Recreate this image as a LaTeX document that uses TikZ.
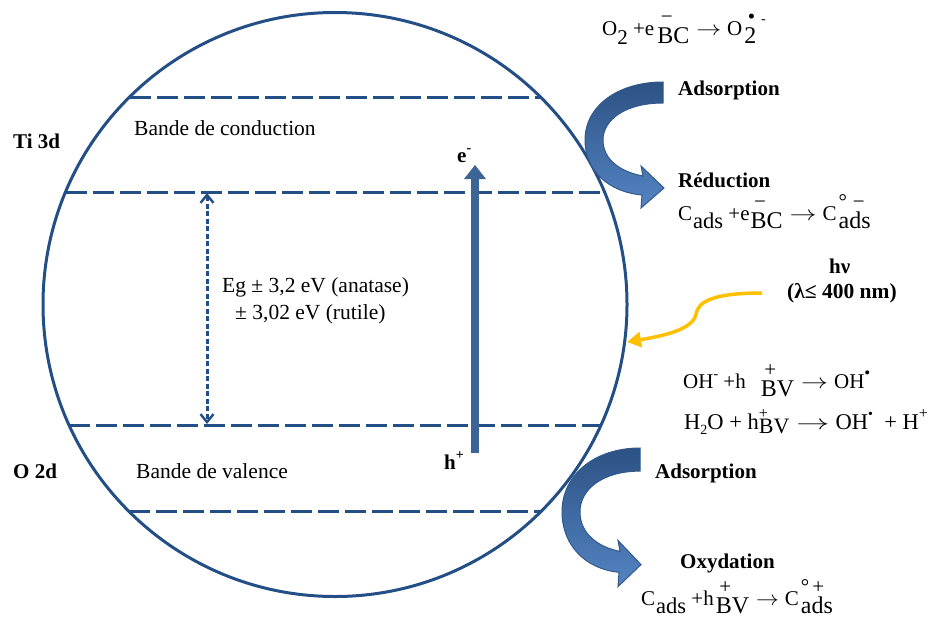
\documentclass[tikz,border=0pt]{standalone}
\usepackage{fontspec}
\setmainfont{Liberation Serif}
\usetikzlibrary{arrows.meta}
\definecolor{cblue}{RGB}{36,78,134}
\definecolor{abl}{RGB}{60,100,150}
\definecolor{abd}{RGB}{50,88,140}
\definecolor{atop}{RGB}{44,82,132}
\definecolor{abot}{RGB}{84,132,194}
\definecolor{ayel}{RGB}{255,192,0}
\newcommand\bigf{\fontsize{24}{25}\selectfont}
\newcommand\dn[1]{\raisebox{-0.45em}{#1}}
\newcommand\dnb[1]{\hspace{1pt}\raisebox{-0.42em}{\fontsize{22.5}{25}\selectfont #1}}
\newcommand\upx[1]{\raisebox{0.45em}{#1}}
\newcommand\SupSub[2]{\rlap{\raisebox{0.55em}{#1}}\raisebox{-0.42em}{\bigf #2}}
\newcommand\rarr[1]{\hspace{7pt}\scalebox{#1}[1]{$\rightarrow$}\hspace{6pt}}
\newcommand\smf{\fontsize{14}{14}\selectfont}
\tikzset{
  band/.style={cblue, line width=3pt, dash pattern=on 21pt off 6pt},
  lbl/.style={inner sep=0pt, anchor=base west, font=\fontsize{21.5}{25}\selectfont},
  flbl/.style={inner sep=0pt, anchor=base west, font=\fontsize{21}{25}\selectfont},
  blbl/.style={lbl, font=\fontsize{21}{25}\selectfont\bfseries},
  blockarrow/.style={draw=abd, line width=1pt, top color=atop, bottom color=abot},
}
\begin{document}
\begin{tikzpicture}[x=1pt, y=-1pt]
\useasboundingbox (0,0) rectangle (941,624);
% circle
\draw[cblue, line width=3pt] (335,304.5) circle[radius=292];
% bands
\draw[band] (130,97) -- (540,97);
\draw[band] (66,192) -- (604,192);
\draw[band] (69,425) -- (601,425);
\draw[band] (129,511) -- (541,511);
% gap arrow
\coordinate (gtop) at (207,193);
\coordinate (gbot) at (207,424);
\draw[cblue, line width=3pt, dash pattern=on 5pt off 2.5pt,
  {Straight Barb[length=8pt,width=13pt,line width=2.4pt]}-{Straight Barb[length=8pt,width=13pt,line width=2.4pt]}] (gtop) -- (gbot);
% excitation arrow
\coordinate (abase) at (475,453);
\coordinate (atip) at (475,165);
\draw[abl, line width=8.5pt] (abase) -- (475,177);
\fill[abl] (464,179) -- (486,179) -- (atip) -- cycle;
% labels left
\node[blbl] (ti) at (13,148) {Ti 3d};
\node[blbl] (o2d) at (13,478) {O 2d};
\node[lbl] (bc) at (134,135) {Bande de conduction};
\node[lbl] (bv) at (136,478) {Bande de valence};
\node[lbl] (eg1) at (222,292) {Eg ± 3,2 eV (anatase)};
\node[lbl] (eg2) at (235,319) {± 3,02 eV (rutile)};
\node[blbl] (el) at (457,162) {e\upx{\smf -}};
\node[blbl] (hl) at (444,469) {h\upx{\smf +}};
% block arrows
\begin{scope}[shift={(663,82)}]
\draw[blockarrow] (0,0) -- (0,21) .. controls (-38,21) and (-60,38) .. (-60,58)
  .. controls (-60,78) and (-42,90) .. (-20,94) -- (-22,84) -- (1,106) -- (-22,126)
  -- (-21,113) .. controls (-55,110) and (-78,88) .. (-78,58)
  .. controls (-78,24) and (-45,0) .. (0,0) -- cycle;
\end{scope}
\begin{scope}[shift={(640,448)}, yscale=1.1]
\draw[blockarrow] (0,0) -- (0,21) .. controls (-38,21) and (-60,38) .. (-60,58)
  .. controls (-60,78) and (-42,90) .. (-20,94) -- (-22,84) -- (1,106) -- (-22,126)
  -- (-21,113) .. controls (-55,110) and (-78,88) .. (-78,58)
  .. controls (-78,24) and (-45,0) .. (0,0) -- cycle;
\end{scope}
% light arrow
\coordinate (ls) at (762,293);
\coordinate (le) at (627,342);
\draw[ayel, line width=3.5pt, -{Triangle[length=14pt,width=15pt]}] (ls) .. controls (712,293) and (698,302) .. (696,314)
  .. controls (693,330) and (662,336) .. (le);
% right texts
\node[flbl] (f1) at (602,35) {O\dn{2}\ +e\hspace{3pt}\SupSub{\,−}{BC}\rarr{1.2}O\hspace{2pt}\SupSub{\,•\hspace{6pt}\smf -}{2}};
\node[blbl] (ads1) at (678,95) {Adsorption};
\node[blbl] (red) at (678,187) {Réduction};
\node[flbl] (f2) at (678,220) {C\dnb{ads}\ +e\hspace{1pt}\SupSub{\,−}{BC}\rarr{1.3}C\hspace{2pt}\SupSub{°\hspace{6pt}−}{ads}};
\node[blbl] (hv) at (829,273) {hν};
\node[blbl] (lam) at (787,298) {\fontsize{21.5}{25}\selectfont (λ≤ 400 nm)};
\node[flbl] (f3) at (683,388) {OH\upx{\smf -}\ +h\hspace{15pt}\SupSub{\,+}{BV}\rarr{1.3}OH\upx{\fontsize{17}{17}\selectfont •}};
\node[flbl] (f4) at (684,429) {\fontsize{22.5}{25}\selectfont H\raisebox{-0.25em}{\smf 2}O + h\rlap{\raisebox{0.45em}{\fontsize{16}{16}\selectfont +}}\raisebox{-0.2em}{\fontsize{22}{22}\selectfont BV}\rarr{1.6}OH\raisebox{0.45em}{\smf •}\ \ + H\raisebox{0.45em}{\fontsize{16}{16}\selectfont +}};
\node[blbl] (ads2) at (655,478) {Adsorption};
\node[blbl] (oxy) at (680,568) {Oxydation};
\node[flbl] (f5) at (641,605) {C\dnb{ads}\ +h\hspace{2pt}\SupSub{\,+}{BV}\rarr{1.1}C\hspace{2pt}\SupSub{°\hspace{3pt}+}{ads}};
\end{tikzpicture}
\end{document}
